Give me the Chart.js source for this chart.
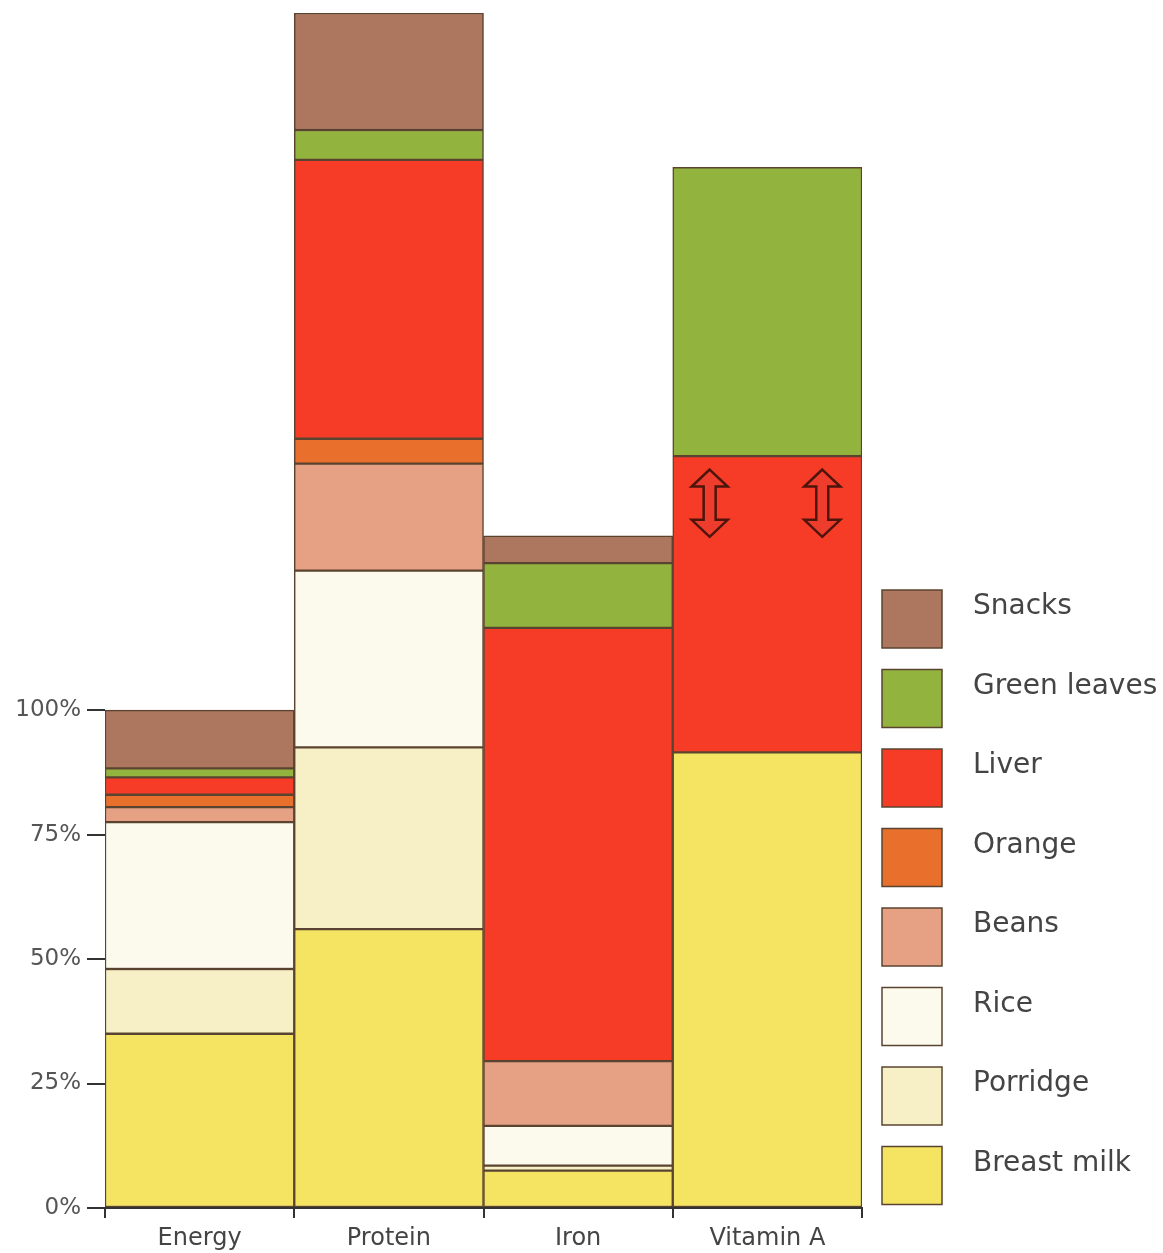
<!DOCTYPE html>
<html>
<head>
<meta charset="utf-8">
<script src="https://cdn.jsdelivr.net/npm/chart.js@4/dist/chart.umd.min.js"></script>
<style>
  html, body { margin: 0; padding: 0; background: #fff; }
  #wrap { width: 1163px; height: 1253px; }
</style>
</head>
<body>
<div id="wrap"><canvas id="foods_chart"></canvas></div>
<script>
// categories and share (%) of each food in the daily needs
const categories = ['Energy', 'Protein', 'Iron', 'Vitamin A'];
const breastMilk = [35, 56, 7.5, 91.5];
const porridge = [13, 36.5, 1, 0];
const rice = [29.5, 35.5, 8, 0];
const beans = [3, 21.5, 13, 0];
const orange = [2.5, 5, 0, 0];
const liver = [3.5, 56, 87, 59.5];
const greenLeaves = [1.8, 6, 13, 58];
const snacks = [11.7, 23.5, 5.5, 0];
const yTicks = [0, 25, 50, 75, 100];

const series = [
    { label: 'Breast milk', data: breastMilk, color: '#f4e462' },
    { label: 'Porridge', data: porridge, color: '#f7f0c6' },
    { label: 'Rice', data: rice, color: '#fcfaec' },
    { label: 'Beans', data: beans, color: '#e6a083' },
    { label: 'Orange', data: orange, color: '#e8702c' },
    { label: 'Liver', data: liver, color: '#f63b27' },
    { label: 'Green leaves', data: greenLeaves, color: '#93b33f' },
    { label: 'Snacks', data: snacks, color: '#ad765f' }
];

const edge = '#5a4430';
const textColor = '#444';

Chart.defaults.font.family = 'DejaVu Sans';

// legend on the right, top to bottom = Snacks ... Breast milk
const sideLegend = {
    id: 'sideLegend',
    afterDraw: (chart) => {
        const ctx = chart.ctx;
        ctx.save();
        ctx.font = '28px DejaVu Sans';
        ctx.textAlign = 'left';
        ctx.textBaseline = 'middle';
        const items = series.slice().reverse();
        items.forEach((s, i) => {
            const y = 590 + i * 79.5;
            ctx.fillStyle = s.color;
            ctx.fillRect(882, y, 60, 58);
            ctx.strokeStyle = edge;
            ctx.lineWidth = 1.5;
            ctx.strokeRect(882, y, 60, 58);
            ctx.fillStyle = textColor;
            ctx.fillText(s.label, 973, y + 17);
        });
        ctx.restore();
    }
};

// two hollow up/down arrows inside the liver block of Vitamin A
const liverArrows = {
    id: 'liverArrows',
    afterDatasetsDraw: (chart) => {
        const ctx = chart.ctx;
        const bar = chart.getDatasetMeta(5).data[3];
        const yScale = chart.scales.y;
        const top = yScale.getPixelForValue(148.3);
        const bottom = yScale.getPixelForValue(134.8);
        const hw = 18, hh = 17, sw = 6;
        [-0.305, 0.29].forEach(f => {
            const cx = bar.x + f * bar.width;
            ctx.save();
            ctx.beginPath();
            ctx.moveTo(cx, top);
            ctx.lineTo(cx + hw, top + hh);
            ctx.lineTo(cx + sw, top + hh);
            ctx.lineTo(cx + sw, bottom - hh);
            ctx.lineTo(cx + hw, bottom - hh);
            ctx.lineTo(cx, bottom);
            ctx.lineTo(cx - hw, bottom - hh);
            ctx.lineTo(cx - sw, bottom - hh);
            ctx.lineTo(cx - sw, top + hh);
            ctx.lineTo(cx - hw, top + hh);
            ctx.closePath();
            ctx.fillStyle = '#ee3d2c';
            ctx.fill();
            ctx.strokeStyle = '#4e150c';
            ctx.lineWidth = 2.5;
            ctx.stroke();
            ctx.restore();
        });
    }
};

const ctx_foods = document.getElementById('foods_chart').getContext('2d');

new Chart(ctx_foods, {
    type: 'bar',
    data: {
        labels: categories,
        datasets: series.map(s => ({
            label: s.label,
            data: s.data,
            backgroundColor: s.color,
            borderColor: edge,
            borderWidth: 1.5,
            borderSkipped: false,
            categoryPercentage: 1,
            barPercentage: 1
        }))
    },
    options: {
        responsive: true,
        maintainAspectRatio: false,
        animation: false,
        layout: {
            padding: { top: 13, right: 301, left: 0, bottom: 0 }
        },
        scales: {
            x: {
                stacked: true,
                grid: {
                    offset: true,
                    drawOnChartArea: false,
                    tickLength: 10,
                    color: '#333',
                    lineWidth: 2
                },
                border: { display: true, color: '#333', width: 2 },
                ticks: {
                    color: textColor,
                    font: { size: 24 },
                    padding: 6
                },
                afterFit: (s) => { s.height = 45; }
            },
            y: {
                stacked: true,
                min: 0,
                max: 240,
                afterBuildTicks: (axis) => {
                    axis.ticks = yTicks.map(v => ({ value: v }));
                },
                grid: {
                    drawOnChartArea: false,
                    tickLength: 18,
                    color: '#333',
                    lineWidth: 2
                },
                border: { display: false },
                ticks: {
                    color: '#555',
                    font: { size: 23 },
                    padding: 6,
                    callback: (v) => v + '%'
                },
                afterFit: (s) => {
                    s.width = 105;
                    s.paddingTop = 0;
                    s.paddingBottom = 0;
                }
            }
        },
        plugins: {
            legend: { display: false },
            tooltip: { enabled: false }
        }
    },
    plugins: [sideLegend, liverArrows]
});
</script>
</body>
</html>
